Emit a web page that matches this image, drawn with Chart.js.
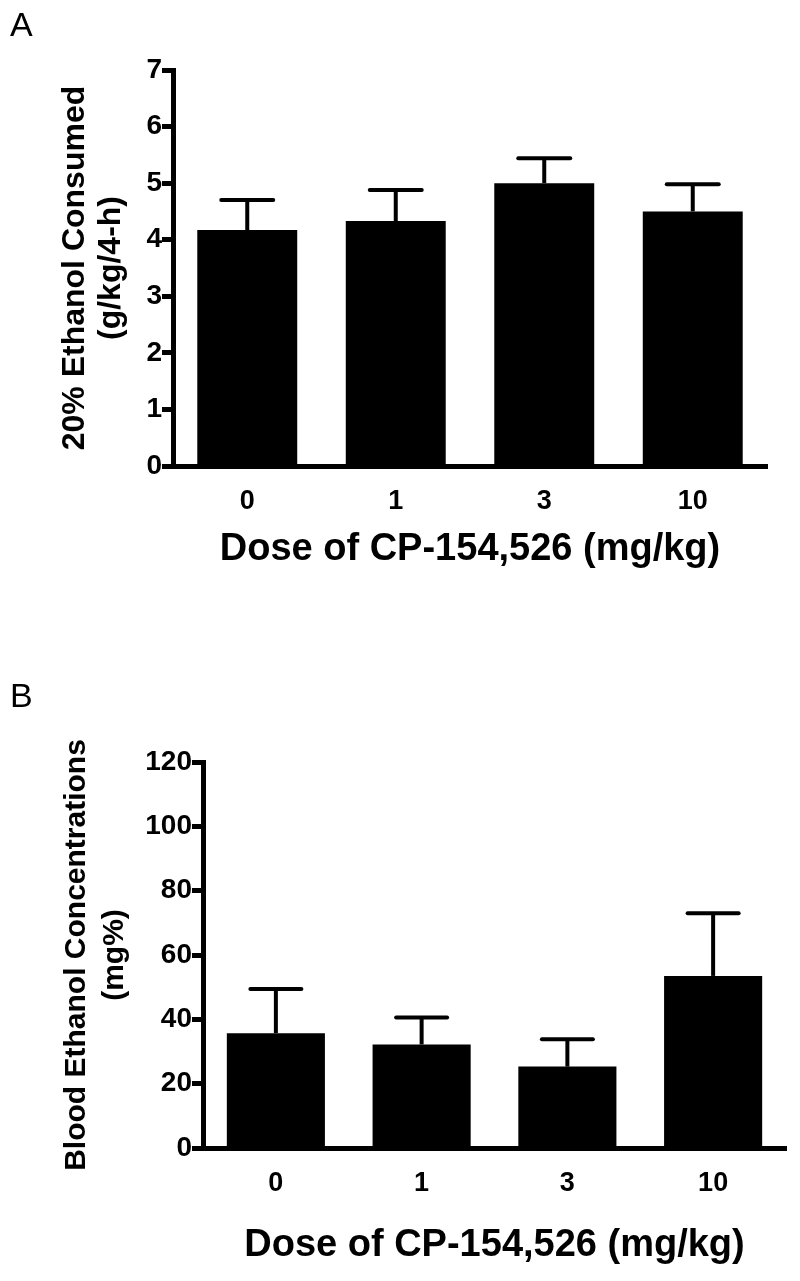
<!DOCTYPE html>
<html>
<head>
<meta charset="utf-8">
<script src="https://cdn.jsdelivr.net/npm/chart.js@4"></script>
<style>
  body { margin: 0; background: #fff; width: 800px; height: 1281px; position: relative; overflow: hidden;
         font-family: "Liberation Sans", Arial, sans-serif; }
  .panel { position: absolute; left: 0; width: 800px; height: 640px; }
  .tag { position: absolute; left: 10px; font-size: 34px; line-height: 1; color: #000; }
</style>
</head>
<body>
<div class="panel" style="top:0"><canvas id="chartA"></canvas></div>
<div class="panel" style="top:640px"><canvas id="chartB"></canvas></div>
<div class="tag" style="top:7px">A</div>
<div class="tag" style="top:678px">B</div>
<script>
// dose groups (mg/kg)
const doses = ['0', '1', '3', '10'];

// panel A: ethanol intake, g/kg/4-h
const ethanolMean = [4.17, 4.33, 5.00, 4.50];
const ethanolSem = [0.53, 0.55, 0.44, 0.48];
const ethanolTicks = [0, 1, 2, 3, 4, 5, 6, 7];

// panel B: blood ethanol, mg%
const becMean = [35.7, 32.2, 25.3, 53.5];
const becSem = [13.7, 8.4, 8.5, 19.5];
const becTicks = [0, 20, 40, 60, 80, 100, 120];

const FONT = '"Liberation Sans", Arial, sans-serif';

// mean + SEM whisker on top of every bar
const errorBars = (sems) => ({
  id: 'errorBars',
  afterDatasetsDraw(chart) {
    const ctx = chart.ctx;
    const y = chart.scales.y;
    const values = chart.data.datasets[0].data;
    ctx.save();
    ctx.strokeStyle = '#000';
    ctx.lineWidth = 4;
    chart.getDatasetMeta(0).data.forEach((bar, i) => {
      const top = y.getPixelForValue(values[i] + sems[i]);
      const half = bar.width * 0.26;
      ctx.beginPath();
      ctx.moveTo(bar.x, bar.y);
      ctx.lineTo(bar.x, top);
      ctx.stroke();
      ctx.beginPath();
      ctx.lineCap = 'round';
      ctx.moveTo(bar.x - half, top);
      ctx.lineTo(bar.x + half, top);
      ctx.stroke();
      ctx.lineCap = 'butt';
    });
    ctx.restore();
  }
});

function createPanel(id, means, sems, ticks, yTitle, layout) {
  const ctx = document.getElementById(id).getContext('2d');
  return new Chart(ctx, {
    type: 'bar',
    data: {
      labels: doses,
      datasets: [{
        data: means,
        backgroundColor: '#000',
        borderWidth: 0,
        barPercentage: 0.673,
        categoryPercentage: 1,
      }]
    },
    options: {
      animation: false,
      responsive: true,
      maintainAspectRatio: false,
      layout: {padding: {left: 0, top: layout.top, right: layout.right, bottom: 0}},
      plugins: {legend: {display: false}, tooltip: {enabled: false}},
      scales: {
        x: {
          type: 'category',
          offset: true,
          grid: {display: false},
          border: {display: true, width: 5, color: '#000'},
          ticks: {color: '#000', padding: 11, font: {family: FONT, size: 27, weight: 'bold'}},
          title: {
            display: true,
            text: 'Dose of CP-154,526 (mg/kg)',
            color: '#000',
            font: {family: FONT, size: 38, weight: 'bold'},
            padding: {top: 0, bottom: layout.xTitlePad},
          },
          afterFit: scale => { scale.height = 640 - layout.bottom; },
        },
        y: {
          type: 'linear',
          min: ticks[0],
          max: ticks[ticks.length - 1],
          grid: {drawOnChartArea: false, drawTicks: true, tickLength: 11, tickWidth: 5, tickColor: '#000'},
          border: {display: true, width: 5, color: '#000'},
          ticks: {color: '#000', padding: 0, font: {family: FONT, size: 28, weight: 'bold'}},
          afterBuildTicks: scale => { scale.ticks = ticks.map(v => ({value: v})); },
          title: {
            display: true,
            text: yTitle,
            color: '#000',
            font: {family: FONT, size: layout.yTitleSize, weight: 'bold', lineHeight: layout.yTitleLine},
            padding: {top: layout.yTitlePad, bottom: 0},
          },
          afterFit: scale => { scale.width = layout.left; },
        }
      }
    },
    plugins: [errorBars(sems)]
  });
}

createPanel('chartA', ethanolMean, ethanolSem, ethanolTicks,
  ['20% Ethanol Consumed', '(g/kg/4-h)'],
  {left: 173, top: 70, right: 33, bottom: 466, xTitlePad: 68, yTitleSize: 32, yTitleLine: 1.1, yTitlePad: 58});

createPanel('chartB', becMean, becSem, becTicks,
  ['Blood Ethanol Concentrations', '(mg%)'],
  {left: 203, top: 122, right: 14, bottom: 508, xTitlePad: 12, yTitleSize: 30, yTitleLine: 1.25, yTitlePad: 58});
</script>
</body>
</html>
